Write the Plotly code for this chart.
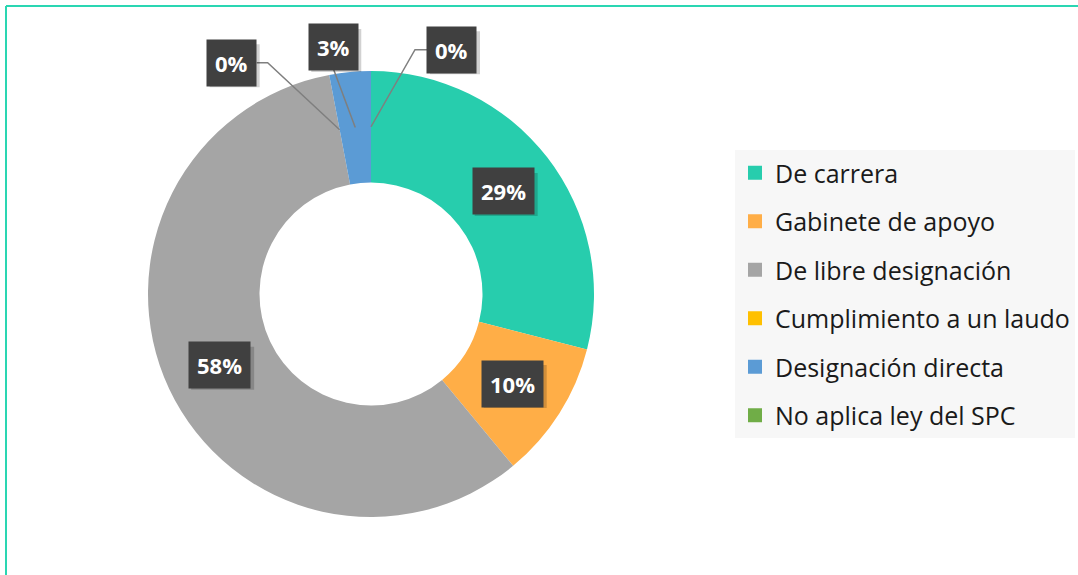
import math
import plotly.graph_objects as go

categories = ["De carrera", "Gabinete de apoyo", "De libre designación",
              "Cumplimiento a un laudo", "Designación directa", "No aplica ley del SPC"]
values = [29, 10, 58, 0, 3, 0]
label_texts = ["29%", "10%", "58%", "0%", "3%", "0%"]
colors = ["#27CDAD", "#FFAE47", "#A5A5A5", "#FFC000", "#5B9BD5", "#70AD47"]

W, H = 1078, 575
CX, CY, R_OUT = 371, 294, 223
HOLE = 0.5
R_LABEL = (R_OUT + R_OUT * HOLE) / 2

# offsets (px) of outside label boxes relative to their anchor, for small slices
outside_offsets = {3: (-108, -67), 4: (-22, -80), 5: (81, -77)}
# elbow direction for leader lines (box side): -1 = box to left, +1 = box to right, 0 = straight
outside_side = {3: -1, 4: 0, 5: 1}

def px2paper(x, y):
    return x / W, 1 - y / H

fig = go.Figure()
fig.add_trace(go.Pie(
    labels=categories, values=values, sort=False, direction="clockwise",
    hole=HOLE, marker=dict(colors=colors, line=dict(width=0)),
    textinfo="none", showlegend=False, hoverinfo="label+percent",
    domain=dict(x=[(CX - R_OUT) / W, (CX + R_OUT) / W],
                y=[1 - (CY + R_OUT) / H, 1 - (CY - R_OUT) / H]),
))

# legend proxies
for c, col in zip(categories, colors):
    fig.add_trace(go.Scatter(x=[None], y=[None], mode="markers", name=c,
                             legendgroup=c,
                             marker=dict(symbol="square", size=14, color=col)))

total = sum(values)
cum = 0
annotations = []
shapes = []
BOX = "#404040"
for i, (v, t) in enumerate(zip(values, label_texts)):
    mid = (cum + v / 2) / total * 2 * math.pi
    cum += v
    ax_ = CX + R_LABEL * math.sin(mid)
    ay_ = CY - R_LABEL * math.cos(mid)
    if i in outside_offsets:
        dx, dy = outside_offsets[i]
        bx, by = ax_ + dx, ay_ + dy
        side = outside_side[i]
        if side == -1:
            ex, ey = bx + 25, by
            pts = [(ax_, ay_), (ex + 11, ey), (ex, ey)]
        elif side == 1:
            ex, ey = bx - 24, by
            pts = [(ax_, ay_), (ex - 13, ey), (ex, ey)]
        else:
            pts = [(ax_, ay_), (bx, by + 21)]
        path = ""
        for k, (px_, py_) in enumerate(pts):
            xp, yp = px2paper(px_, py_)
            path += ("M" if k == 0 else "L") + f"{xp},{yp} "
        shapes.append(dict(type="path", xref="paper", yref="paper", path=path,
                           line=dict(color="#7F7F7F", width=1.5), layer="above"))
    else:
        bx, by = ax_, ay_
    # soft drop shadow behind the label box
    bw, bh = 13 * len(t) + 24, 43
    x0, y0 = px2paper(bx - bw / 2 + 3, by + bh / 2 + 3)
    x1, y1 = px2paper(bx + bw / 2 + 3, by - bh / 2 + 3)
    shapes.append(dict(type="rect", xref="paper", yref="paper", x0=x0, y0=y0, x1=x1, y1=y1,
                       fillcolor="rgba(0,0,0,0.18)", line=dict(width=0), layer="above"))
    xp, yp = px2paper(bx, by)
    annotations.append(dict(x=xp, y=yp, xref="paper", yref="paper", text=f"<b>{t}</b>",
                            xanchor="center", yanchor="middle",
                            showarrow=False, bgcolor=BOX, borderpad=8,
                            font=dict(family="Open Sans", size=22, color="white")))

# outer frame lines
shapes.append(dict(type="line", xref="paper", yref="paper", x0=6 / W, x1=1.0,
                   y0=1 - 6 / H, y1=1 - 6 / H, line=dict(color="#2AD6B2", width=2)))
shapes.append(dict(type="line", xref="paper", yref="paper", x0=6 / W, x1=6 / W,
                   y0=0, y1=1 - 6 / H, line=dict(color="#2AD6B2", width=2)))

fig.update_layout(
    width=W, height=H, margin=dict(l=0, r=0, t=0, b=0),
    paper_bgcolor="white", plot_bgcolor="white",
    xaxis=dict(visible=False), yaxis=dict(visible=False),
    annotations=annotations, shapes=shapes,
    legend=dict(x=735 / W, y=1 - 150 / H, xanchor="left", yanchor="top",
                bgcolor="#F7F7F7", tracegroupgap=13, traceorder="grouped",
                font=dict(family="Open Sans", size=25, color="#1A1A1A")),
)
fig.write_html("out.html", config={"displayModeBar": False},
               post_script="document.body.style.margin='0';")
